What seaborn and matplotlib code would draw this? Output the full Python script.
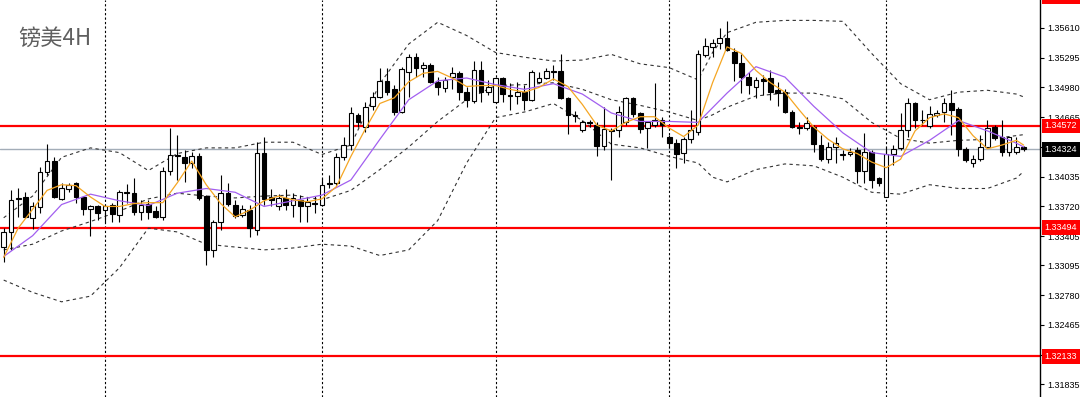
import matplotlib
matplotlib.use("Agg")
import matplotlib.pyplot as plt
import matplotlib.transforms as mtransforms
import seaborn as sns
import numpy as np

# GBPUSD 4H candles
opens = [1.3329, 1.3345, 1.3380, 1.3382, 1.3360, 1.3371, 1.3408, 1.3420, 1.3380, 1.3390,
         1.3397, 1.3382, 1.3369, 1.3372, 1.3368, 1.3373, 1.3363, 1.3387, 1.3386, 1.3366,
         1.3375, 1.3367, 1.3361, 1.3409, 1.3426, 1.3424, 1.3418, 1.3425, 1.3383, 1.3326,
         1.3356, 1.3386, 1.3374, 1.3363, 1.3368, 1.3347, 1.3429, 1.3382, 1.3372, 1.3381,
         1.3374, 1.3379, 1.3372, 1.3376, 1.3374, 1.3397, 1.3397, 1.3424, 1.3437, 1.3469,
         1.3456, 1.3478, 1.3488, 1.3505, 1.3496, 1.3472, 1.3514, 1.3530, 1.3519, 1.3522,
         1.3504, 1.3497, 1.3509, 1.3513, 1.3493, 1.3484, 1.3516, 1.3493, 1.3483, 1.3508,
         1.3490, 1.3489, 1.3493, 1.3485, 1.3504, 1.3508, 1.3515, 1.3515, 1.3487, 1.3469,
         1.3453, 1.3461, 1.3458, 1.3436, 1.3453, 1.3453, 1.3461, 1.3487, 1.3471, 1.3455,
         1.3458, 1.3463, 1.3445, 1.3439, 1.3429, 1.3443, 1.3451, 1.3532, 1.3541, 1.3545,
         1.3550, 1.3536, 1.3524, 1.3509, 1.3498, 1.3507, 1.3508, 1.3495, 1.3493, 1.3472,
         1.3456, 1.3455, 1.3456, 1.3437, 1.3422, 1.3435, 1.3426, 1.3427, 1.3432, 1.3409,
         1.3430, 1.3402, 1.3382, 1.3427, 1.3434, 1.3453, 1.3482, 1.3464, 1.3457, 1.3469,
         1.3472, 1.3482, 1.3475, 1.3433, 1.3418, 1.3422, 1.3435, 1.3456, 1.3446, 1.3430,
         1.3430, 1.3435]
highs = [1.3349, 1.3389, 1.3392, 1.3387, 1.3377, 1.3414, 1.3438, 1.3424, 1.3397, 1.3397,
         1.3398, 1.3383, 1.3374, 1.3374, 1.3374, 1.3376, 1.3389, 1.3396, 1.3402, 1.3379,
         1.3379, 1.3372, 1.3414, 1.3455, 1.3448, 1.3432, 1.3430, 1.3429, 1.3384, 1.3358,
         1.3405, 1.3397, 1.3379, 1.3373, 1.3373, 1.3440, 1.3446, 1.3390, 1.3385, 1.3390,
         1.3386, 1.3384, 1.3382, 1.3383, 1.3402, 1.3405, 1.3429, 1.3445, 1.3477, 1.3471,
         1.3483, 1.3493, 1.3519, 1.3519, 1.3501, 1.3520, 1.3533, 1.3534, 1.3525, 1.3524,
         1.3509, 1.3509, 1.3520, 1.3515, 1.3498, 1.3526, 1.3526, 1.3506, 1.3509, 1.3509,
         1.3503, 1.3504, 1.3501, 1.3517, 1.3514, 1.3519, 1.3522, 1.3533, 1.3488, 1.3473,
         1.3464, 1.3464, 1.3461, 1.3477, 1.3455, 1.3478, 1.3488, 1.3488, 1.3472, 1.3462,
         1.3503, 1.3467, 1.3448, 1.3443, 1.3446, 1.3474, 1.3538, 1.3550, 1.3549, 1.3561,
         1.3568, 1.3540, 1.3533, 1.3514, 1.3509, 1.3511, 1.3517, 1.3504, 1.3496, 1.3474,
         1.3461, 1.3467, 1.3458, 1.3448, 1.3440, 1.3446, 1.3432, 1.3434, 1.3435, 1.3450,
         1.3432, 1.3403, 1.3435, 1.3437, 1.3471, 1.3487, 1.3483, 1.3474, 1.3478, 1.3474,
         1.3487, 1.3495, 1.3477, 1.3435, 1.3426, 1.3448, 1.3464, 1.3458, 1.3464, 1.3446,
         1.3445, 1.3436]
lows = [1.3313, 1.3326, 1.3361, 1.3360, 1.3348, 1.3365, 1.3405, 1.3381, 1.3379, 1.3387,
        1.3376, 1.3363, 1.3341, 1.3358, 1.3355, 1.3356, 1.3356, 1.3376, 1.3363, 1.3358,
        1.3359, 1.3360, 1.3358, 1.3405, 1.3400, 1.3398, 1.3413, 1.3379, 1.3310, 1.3318,
        1.3347, 1.3372, 1.3360, 1.3361, 1.3340, 1.3342, 1.3374, 1.3372, 1.3368, 1.3368,
        1.3361, 1.3356, 1.3356, 1.3365, 1.3372, 1.3392, 1.3395, 1.3421, 1.3432, 1.3456,
        1.3451, 1.3474, 1.3487, 1.3490, 1.3469, 1.3471, 1.3488, 1.3509, 1.3509, 1.3503,
        1.3490, 1.3493, 1.3496, 1.3485, 1.3477, 1.3482, 1.3483, 1.3490, 1.3482, 1.3483,
        1.3474, 1.3480, 1.3474, 1.3484, 1.3503, 1.3507, 1.3506, 1.3486, 1.3449, 1.3461,
        1.3451, 1.3456, 1.3425, 1.3432, 1.3400, 1.3446, 1.3458, 1.3467, 1.3450, 1.3434,
        1.3456, 1.3445, 1.3434, 1.3413, 1.3418, 1.3439, 1.3448, 1.3530, 1.3530, 1.3539,
        1.3537, 1.3505, 1.3492, 1.3491, 1.3487, 1.3490, 1.3485, 1.3478, 1.3471, 1.3455,
        1.3449, 1.3453, 1.3430, 1.3420, 1.3418, 1.3418, 1.3421, 1.3425, 1.3397, 1.3397,
        1.3392, 1.3394, 1.3382, 1.3416, 1.3432, 1.3445, 1.3455, 1.3458, 1.3455, 1.3467,
        1.3461, 1.3448, 1.3425, 1.3419, 1.3414, 1.3420, 1.3434, 1.3442, 1.3425, 1.3425,
        1.3427, 1.3431]
closes = [1.3345, 1.3379, 1.3381, 1.3361, 1.3372, 1.3408, 1.3420, 1.3382, 1.3392, 1.3395,
          1.3382, 1.3369, 1.3372, 1.3365, 1.3372, 1.3364, 1.3387, 1.3386, 1.3366, 1.3374,
          1.3366, 1.3361, 1.3410, 1.3426, 1.3425, 1.3418, 1.3425, 1.3381, 1.3326, 1.3355,
          1.3386, 1.3375, 1.3362, 1.3369, 1.3349, 1.3429, 1.3380, 1.3379, 1.3381, 1.3374,
          1.3381, 1.3372, 1.3377, 1.3375, 1.3395, 1.3396, 1.3424, 1.3437, 1.3471, 1.3461,
          1.3477, 1.3488, 1.3505, 1.3493, 1.3472, 1.3518, 1.3530, 1.3519, 1.3522, 1.3504,
          1.3498, 1.3506, 1.3513, 1.3493, 1.3485, 1.3516, 1.3493, 1.3498, 1.3508, 1.3491,
          1.3489, 1.3493, 1.3485, 1.3514, 1.3508, 1.3515, 1.3514, 1.3487, 1.3469, 1.3468,
          1.3461, 1.3460, 1.3436, 1.3454, 1.3452, 1.3472, 1.3487, 1.3470, 1.3454, 1.3461,
          1.3464, 1.3458, 1.3439, 1.3427, 1.3443, 1.3453, 1.3533, 1.3542, 1.3545, 1.3550,
          1.3538, 1.3524, 1.3509, 1.3501, 1.3506, 1.3505, 1.3493, 1.3492, 1.3472, 1.3456,
          1.3455, 1.3460, 1.3438, 1.3422, 1.3435, 1.3439, 1.3428, 1.3430, 1.3409, 1.3430,
          1.3400, 1.3397, 1.3427, 1.3433, 1.3453, 1.3482, 1.3464, 1.3463, 1.3470, 1.3471,
          1.3481, 1.3474, 1.3433, 1.3421, 1.3422, 1.3435, 1.3455, 1.3444, 1.3430, 1.3445,
          1.3435, 1.34324]

# fast MA (orange), read every second bar
fast_bars = list(range(0, 141, 2)) + [141]
fast_ma = [1.3318, 1.3349, 1.3369, 1.3389, 1.3395, 1.3394, 1.3382, 1.3372, 1.3372, 1.3375,
           1.3376, 1.3376, 1.3397, 1.3420, 1.3395, 1.3375, 1.3361, 1.3368, 1.3378, 1.3383,
           1.3379, 1.3377, 1.3380, 1.3393, 1.3425, 1.3454, 1.3481, 1.3487, 1.3504, 1.3513,
           1.3515, 1.3508, 1.3499, 1.3500, 1.3500, 1.3496, 1.3493, 1.3498, 1.3507, 1.3499,
           1.3480, 1.3458, 1.3452, 1.3461, 1.3467, 1.3467, 1.3455, 1.3446, 1.3458, 1.3503,
           1.3541, 1.3534, 1.3516, 1.3503, 1.3493, 1.3474, 1.3456, 1.3443, 1.3433, 1.3428,
           1.3419, 1.3413, 1.3422, 1.3452, 1.3466, 1.3470, 1.3466, 1.3447, 1.3433, 1.3437,
           1.3442, 1.3437]

# slow MA (purple), read every fourth bar
slow_bars = list(range(0, 141, 4)) + [141]
slow_ma = [1.3319, 1.3341, 1.3374, 1.3385, 1.3378, 1.3373, 1.3386, 1.3391, 1.3387, 1.3372,
           1.3378, 1.3384, 1.3400, 1.3443, 1.3485, 1.3505, 1.3508, 1.3501, 1.3496, 1.3502,
           1.3491, 1.3471, 1.3462, 1.3462, 1.3461, 1.3492, 1.3520, 1.3509, 1.3478, 1.3450,
           1.3429, 1.3425, 1.3442, 1.3463, 1.3452, 1.3439, 1.3435]

# Bollinger bands (dashed)
band_bars = [0, 4, 8, 12, 16, 20, 24, 28, 32, 36, 40, 44, 48, 52, 56, 60, 64, 68, 72, 76,
             80, 84, 88, 92, 96, 98, 100, 104, 108, 112, 116, 120, 124, 128, 132, 136, 140, 141]
band_upper = [1.3360, 1.3383, 1.3424, 1.3434, 1.3429, 1.3410, 1.3428, 1.3434, 1.3434, 1.3440,
              1.3440, 1.3427, 1.3437, 1.3502, 1.3544, 1.3567, 1.3553, 1.3535, 1.3530, 1.3526,
              1.3527, 1.3533, 1.3523, 1.3519, 1.3506, 1.3535, 1.3556, 1.3567, 1.3569, 1.3569,
              1.3568, 1.3534, 1.3502, 1.3485, 1.3493, 1.3495, 1.3491, 1.3488]
band_mid = [1.3326, 1.3332, 1.3346, 1.3356, 1.3367, 1.3380, 1.3386, 1.3383, 1.3381, 1.3383,
            1.3384, 1.3379, 1.3389, 1.3411, 1.3435, 1.3462, 1.3485, 1.3500, 1.3501, 1.3503,
            1.3496, 1.3485, 1.3479, 1.3472, 1.3463, 1.3469, 1.3477, 1.3489, 1.3492, 1.3492,
            1.3486, 1.3461, 1.3444, 1.3439, 1.3442, 1.3443, 1.3447, 1.3448]
band_lower = [1.3294, 1.3281, 1.3271, 1.3277, 1.3307, 1.3349, 1.3345, 1.3332, 1.3329, 1.3326,
              1.3328, 1.3332, 1.3330, 1.3320, 1.3326, 1.3357, 1.3418, 1.3466, 1.3472, 1.3481,
              1.3463, 1.3438, 1.3434, 1.3425, 1.3418, 1.3403, 1.3398, 1.3411, 1.3417, 1.3415,
              1.3403, 1.3387, 1.3385, 1.3395, 1.3391, 1.3391, 1.3402, 1.3409]

red_levels = [1.35940, 1.34572, 1.33494, 1.32133]
bid_level = 1.34324
tick_values = [1.35610, 1.35295, 1.34980, 1.34665, 1.34350, 1.34035, 1.33720,
               1.33405, 1.33095, 1.32780, 1.32465, 1.32150, 1.31835]
period_bars = [14, 44, 68, 92, 122]

sns.set_style("white")
plt.rcParams['font.family'] = ['Liberation Sans', 'DejaVu Sans']

fig = plt.figure(figsize=(10.8, 3.97), dpi=100)
ax = fig.add_axes([0, 0, 1040 / 1080, 1])

bars = np.arange(len(closes))
o = np.array(opens)
c = np.array(closes)

for b in period_bars:
    ax.axvline(b, color='black', lw=0.8, ls=(0, (2, 2)), zorder=1)

for lvl in red_levels:
    ax.axhline(lvl, color='#ff0000', lw=1.6, zorder=1.5)
ax.axhline(bid_level, color='#a3adb8', lw=1, zorder=1.5)

for vals in (band_upper, band_mid, band_lower):
    sns.lineplot(x=band_bars, y=vals, ax=ax, color='#333333', lw=0.8,
                 linestyle=(0, (3, 3)), estimator=None, sort=False, legend=False, zorder=2)

ax.vlines(bars, lows, highs, color='black', lw=0.8, zorder=3)
up = c >= o
ax.bar(bars[up], (c - o)[up], bottom=o[up], width=0.65, facecolor='white',
       edgecolor='black', linewidth=0.8, zorder=4)
ax.bar(bars[~up], (o - c)[~up], bottom=c[~up], width=0.65, facecolor='black',
       edgecolor='black', linewidth=0.8, zorder=4)

sns.lineplot(x=slow_bars, y=slow_ma, ax=ax, color='#a25ff0', lw=0.9,
             estimator=None, sort=False, legend=False, zorder=5)
sns.lineplot(x=fast_bars, y=fast_ma, ax=ax, color='#f5a623', lw=0.9,
             estimator=None, sort=False, legend=False, zorder=5)

ax.set_xlim(-0.51, 143.27)
ax.set_ylim(1.31702, 1.35906)
ax.set_xticks([])
ax.set_xlabel('')
ax.set_ylabel('')
for side in ('top', 'left', 'bottom'):
    ax.spines[side].set_visible(False)
ax.spines['right'].set_color('black')
ax.spines['right'].set_linewidth(1)

ax.yaxis.tick_right()
ax.set_yticks(tick_values)
ax.set_yticklabels([f'{v:.5f}' for v in tick_values])
ax.tick_params(axis='y', direction='out', length=3, width=0.8, pad=2,
               labelsize=6.5, colors='black')

# price tags on the right edge
trans = mtransforms.blended_transform_factory(ax.transAxes, ax.transData)
for lvl in red_levels:
    ax.text(1.0045, lvl, f'{lvl:.5f}', transform=trans, fontsize=6.5, color='white',
            va='center', ha='left', clip_on=False, zorder=10,
            bbox=dict(boxstyle='square,pad=0.32', fc='#ff0000', ec='none'))
ax.text(1.0045, bid_level, f'{bid_level:.5f}', transform=trans, fontsize=6.5, color='white',
        va='center', ha='left', clip_on=False, zorder=10,
        bbox=dict(boxstyle='square,pad=0.32', fc='black', ec='none'))

ax.text(18 / 1040, 1 - 38 / 397, '镑美4H', transform=ax.transAxes, fontsize=16,
        color='#5f5f5f', va='center', ha='left',
        family=['Noto Sans CJK SC', 'DejaVu Sans'])

fig.savefig('out.png', dpi=100)
